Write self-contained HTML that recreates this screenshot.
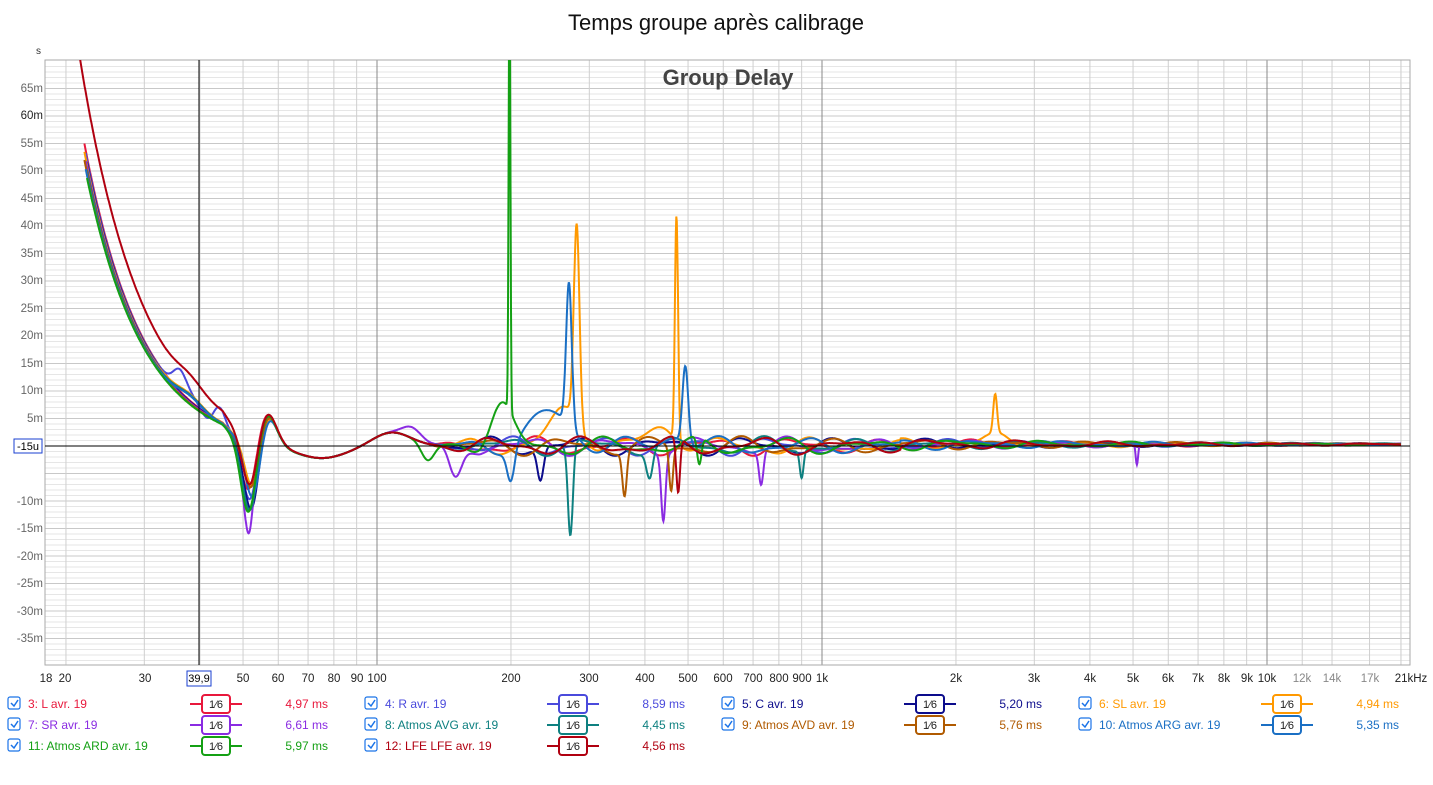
<!DOCTYPE html>
<html><head><meta charset="utf-8"><style>
body{margin:0;background:#fff;font-family:"Liberation Sans",sans-serif;}
svg text{font-family:"Liberation Sans",sans-serif;}
</style></head><body>
<svg id="s" width="1433" height="780" xmlns="http://www.w3.org/2000/svg">
<rect width="1433" height="780" fill="#fff"/>
<text x="716" y="30" font-size="22" text-anchor="middle" fill="#111">Temps groupe après calibrage</text>
<text x="36" y="54" font-size="10" fill="#333">s</text>
<g id="grid"></g>
<rect x="45" y="60" width="1365" height="605" fill="none" stroke="#aaa"/>
<text x="728" y="85" font-size="22" font-weight="bold" text-anchor="middle" fill="#444">Group Delay</text>
<g id="curves"></g>
<line x1="199" y1="60" x2="199" y2="665" stroke="#000" stroke-width="1"/>
<line x1="45" y1="446" x2="1410" y2="446" stroke="#000" stroke-width="1"/>
<g font-size="11.5" fill="#666" text-anchor="end">
<text x="43" y="92">65m</text><text x="43" y="119" fill="#222">60m</text><text x="43" y="147">55m</text><text x="43" y="174">50m</text><text x="43" y="202">45m</text><text x="43" y="229">40m</text><text x="43" y="257">35m</text><text x="43" y="284">30m</text><text x="43" y="312">25m</text><text x="43" y="339">20m</text><text x="43" y="367">15m</text><text x="43" y="394">10m</text><text x="43" y="422">5m</text>
<text x="43" y="505">-10m</text><text x="43" y="532">-15m</text><text x="43" y="560">-20m</text><text x="43" y="587">-25m</text><text x="43" y="615">-30m</text><text x="43" y="642">-35m</text>
</g>
<rect x="14" y="439" width="28" height="14" fill="#fff" stroke="#1a3fd0"/>
<text x="28" y="450" font-size="11" text-anchor="middle" fill="#000">-15u</text>
<g font-size="11.5" fill="#222" text-anchor="middle">
<text x="46" y="682">18</text><text x="65" y="682">20</text><text x="145" y="682">30</text><text x="243" y="682">50</text><text x="278" y="682">60</text><text x="308" y="682">70</text><text x="334" y="682">80</text><text x="357" y="682">90</text><text x="377" y="682">100</text>
<text x="511" y="682">200</text><text x="589" y="682">300</text><text x="645" y="682">400</text><text x="688" y="682">500</text><text x="723" y="682">600</text><text x="753" y="682">700</text><text x="779" y="682">800</text><text x="802" y="682">900</text><text x="822" y="682">1k</text>
<text x="956" y="682">2k</text><text x="1034" y="682">3k</text><text x="1090" y="682">4k</text><text x="1133" y="682">5k</text><text x="1168" y="682">6k</text><text x="1198" y="682">7k</text><text x="1224" y="682">8k</text><text x="1247" y="682">9k</text><text x="1267" y="682">10k</text>
<text x="1302" y="682" fill="#888">12k</text><text x="1332" y="682" fill="#888">14k</text><text x="1370" y="682" fill="#888">17k</text><text x="1411" y="682">21kHz</text>
</g>
<rect x="187" y="671" width="24" height="15" fill="#fff" stroke="#1a3fd0"/>
<text x="199" y="682" font-size="11" text-anchor="middle" fill="#000">39,9</text>
<g id="legend" font-size="12"></g>
</svg>
<script>
var NS="http://www.w3.org/2000/svg";
function X(f){return 377+445*Math.log10(f/100);}
function Y(m){return 446-5.5*m;}
function el(p,t,a){var e=document.createElementNS(NS,t);for(var k in a)e.setAttribute(k,a[k]);p.appendChild(e);return e;}
var g=document.getElementById("grid");
for(var m=-39;m<=69;m++){var y=Y(m);if(y<60||y>665)continue;el(g,"line",{x1:45,x2:1410,y1:y,y2:y,stroke:m%5==0?"#c8c8c8":"#e6e6e6","stroke-width":1});}
var fs=[];for(var d=10;d<=10000;d*=10)for(var k=1;k<10;k++)fs.push(k*d);fs.push(12000,14000,17000,20000);
fs.forEach(function(f){var x=X(f);if(x<46||x>1409)return;var c=(f==100||f==1000||f==10000)?"#888":"#cfcfcf";el(g,"line",{x1:x,x2:x,y1:60,y2:665,stroke:c,"stroke-width":1});});
function G(f,f0,a,w){var t=Math.log10(f/f0)/w;return a*Math.exp(-t*t);}
var S=[
{c:"#e8183c",n:"3: L avr. 19",v:"4,97 ms",s:1,f:[]},
{c:"#4a4adc",n:"4: R avr. 19",v:"8,59 ms",s:2,f:[[36,3,.02],[44,5,.02],[43,-3,.03]]},
{c:"#0c0c8c",n:"5: C avr. 19",v:"5,20 ms",s:3,f:[[233,-6,.01]]},
{c:"#ff9900",n:"6: SL avr. 19",v:"4,94 ms",s:4,f:[[281,36,.009],[265,6,.05],[471,41,.005],[440,3,.05],[2450,7,.006],[2460,1.5,.04]]},
{c:"#8a2be2",n:"7: SR avr. 19",v:"6,61 ms",s:5,f:[[51.5,-6,.012],[120,2,.03],[150,-6,.02],[440,-12,.007],[730,-6,.007],[5100,-4,.004]]},
{c:"#0e8080",n:"8: Atmos AVG avr. 19",v:"4,45 ms",s:6,f:[[272,-17,.008],[410,-5,.01],[900,-5,.006]]},
{c:"#b05a00",n:"9: Atmos AVD avr. 19",v:"5,76 ms",s:7,f:[[360,-8,.007],[458,-8,.006]]},
{c:"#1a6fc4",n:"10: Atmos ARG avr. 19",v:"5,35 ms",s:8,f:[[270,26,.009],[245,6,.06],[200,-6,.012],[493,14,.009],[470,2,.04]]},
{c:"#14a014",n:"11: Atmos ARD avr. 19",v:"5,97 ms",s:9,f:[[198.5,80,.0028],[190,7,.035],[530,-5,.007],[130,-3,.02]]},
{c:"#b00010",n:"12: LFE LFE avr. 19",v:"4,56 ms",s:10,f:[[475,-10,.006]],lfe:1}
];
var cg=document.getElementById("curves");
S.forEach(function(s,i){
 var d="",start=s.lfe?21.3:22+(i%3)*0.15;
 for(var j=0;j<=2600;j++){
  var f=start*Math.pow(20000/start,j/2600);
  var m;
  if(s.lfe) m=70*Math.pow(21.7/f,3.0)-1.5; else m=(56-i*0.5)*Math.pow(22/f,3.3)-1;
  if(f>45) m*=Math.exp(-(f-45)/10);
  m+=G(f,51.5+(i%4)*0.4,-10-(i%3)*2,.025)+G(f,56.5,6,.03)+G(f,75,-2.2,.08)+G(f,108,2.5,.06)+G(f,38,1.5*(i%2),.04);
  var lf=Math.log10(f);
  var amp=f<130?0:(f<170?1.2*(f-130)/40:1.2*Math.exp(-Math.max(0,lf-2.9)*1.6));
  m+=amp*(Math.sin(lf*32+s.s*1.7)+0.5*Math.sin(lf*58+s.s*2.9));
  if(f>1500) m+=0.3;
  s.f.forEach(function(q){m+=G(f,q[0],q[1],q[2]);});
  var y=Y(m);if(y<40)y=40;if(y>700)y=700;
  d+=(j?"L":"M")+X(f).toFixed(1)+" "+y.toFixed(1);
 }
 el(cg,"path",{d:d,fill:"none",stroke:s.c,"stroke-width":2,"clip-path":"url(#cp)"});
});
var defs=el(document.getElementById("s"),"defs",{});var cp=el(defs,"clipPath",{id:"cp"});el(cp,"rect",{x:45,y:60,width:1365,height:605});
var lg=document.getElementById("legend");
for(var idx=0;idx<10;idx++){
 var s=S[idx],col=idx%4,row=Math.floor(idx/4);
 var x0=8+col*357,y0=704+row*21;
 el(lg,"rect",{x:x0,y:y0-7,width:12,height:12,rx:2,fill:"#fff",stroke:"#1a73e8","stroke-width":1.2});
 el(lg,"path",{d:"M"+(x0+3)+" "+(y0-1)+"l3 3l4-6",fill:"none",stroke:"#1a73e8","stroke-width":1.5});
 var t=el(lg,"text",{x:x0+20,y:y0+4,fill:s.c});t.textContent=s.n;
 var bx=x0+182;
 el(lg,"line",{x1:bx,x2:bx+52,y1:y0,y2:y0,stroke:s.c,"stroke-width":2});
 el(lg,"rect",{x:bx+12,y:y0-9,width:28,height:18,rx:3,fill:"#fff",stroke:s.c,"stroke-width":2});
 var t2=el(lg,"text",{x:bx+26,y:y0+4,fill:"#222","text-anchor":"middle","font-size":"11"});t2.textContent="1⁄6";
 var t3=el(lg,"text",{x:x0+320,y:y0+4,fill:s.c,"text-anchor":"end"});t3.textContent=s.v;
}
</script>
</body></html>
